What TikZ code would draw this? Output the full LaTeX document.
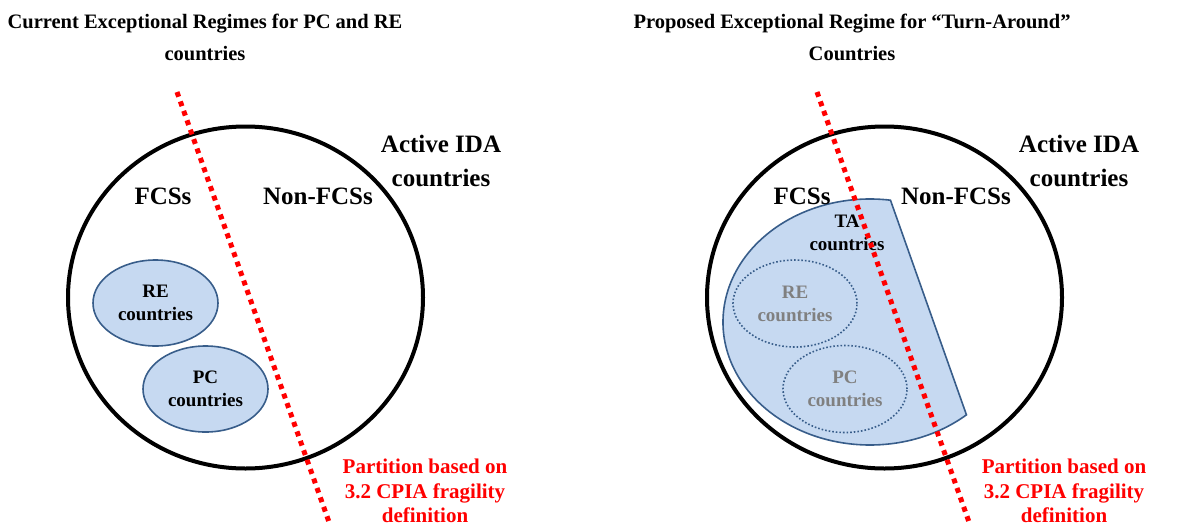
\documentclass[tikz,border=0pt]{standalone}
\usepackage{fontspec}
\setmainfont{Liberation Serif}[BoldFont={Liberation Serif Bold}]
\usetikzlibrary{shapes.geometric}
\definecolor{bluefill}{RGB}{198,217,241}
\definecolor{blueborder}{RGB}{56,93,138}
\definecolor{greytext}{RGB}{128,128,128}
\begin{document}
\begin{tikzpicture}[x=1pt,y=-1pt,
  every node/.style={inner sep=0pt, align=center},
  head/.style={font=\rmfamily\bfseries\fontsize{20.5}{32}\selectfont},
  lab/.style={font=\rmfamily\bfseries\fontsize{25}{34}\selectfont},
  small/.style={font=\rmfamily\bfseries\fontsize{19}{23}\selectfont},
  part/.style={font=\rmfamily\bfseries\fontsize{21}{24.5}\selectfont, text=red},
  bigcirc/.style={ellipse, draw=black, line width=4pt, minimum width=355pt, minimum height=342pt},
  region/.style={ellipse, draw=blueborder, fill=bluefill, line width=1.6pt, minimum width=125pt, minimum height=86pt},
  dotreg/.style={ellipse, draw=blueborder, line width=1.6pt, dotted, minimum width=124pt, minimum height=87pt},
  fragline/.style={draw=red, line width=5pt, dash pattern=on 5pt off 5pt},
  tashape/.style={draw=blueborder, fill=bluefill, line width=1.6pt}
]
\useasboundingbox (0,0) rectangle (1199,525);

% ---------- Left panel ----------
\node[head] (h1) at (205,37) {Current Exceptional Regimes for PC and RE\\countries};
\node[bigcirc] (ida1) at (245.5,297.5) {};
\node[region, small] (re1) at (155.5,303) {RE\\countries};
\node[region, small] (pc1) at (205.5,389) {PC\\countries};
\node[lab] (fcs1) at (163,196) {FCSs};
\node[lab] (nfcs1) at (318,196) {Non-FCSs};
\node[lab] (act1) at (441,161) {Active IDA\\countries};
\node[part] (part1) at (425,491) {Partition based on\\3.2 CPIA fragility\\definition};
\coordinate (l1a) at (177,92);
\coordinate (l1b) at (329,522);
\draw[fragline] (l1a) -- (l1b);

% ---------- Right panel ----------
\node[head] (h2) at (852,37) {Proposed Exceptional Regime for “Turn-Around”\\Countries};
\node[bigcirc] (ida2) at (884.5,297.5) {};
\coordinate (tac) at (870,322);
\draw[tashape] (tac) ++(82:147pt and 123pt) arc[start angle=82, end angle=311, x radius=147pt, y radius=123pt] -- cycle;
\node[dotreg, small, text=greytext] (re2) at (795,303.5) {RE\\countries};
\node[dotreg, small, text=greytext] (pc2) at (845,389) {PC\\countries};
\node[small] (ta2) at (847,233) {TA\\countries};
\node[lab] (fcs2) at (802,196) {FCSs};
\node[lab] (nfcs2) at (956,196) {Non-FCSs};
\node[lab] (act2) at (1079,161) {Active IDA\\countries};
\node[part] (part2) at (1064,491) {Partition based on\\3.2 CPIA fragility\\definition};
\coordinate (l2a) at (817,92);
\coordinate (l2b) at (969,522);
\draw[fragline] (l2a) -- (l2b);
\end{tikzpicture}
\end{document}
